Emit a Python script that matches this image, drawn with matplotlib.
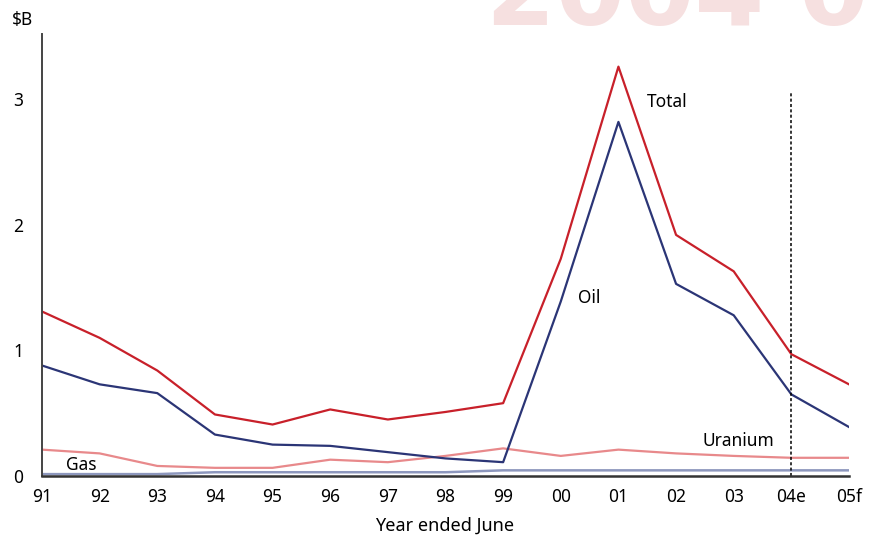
import matplotlib
matplotlib.use("Agg")
import matplotlib.pyplot as plt

years = ["91", "92", "93", "94", "95", "96", "97", "98", "99",
         "00", "01", "02", "03", "04e", "05f"]
total = [1.31, 1.10, 0.84, 0.49, 0.41, 0.53, 0.45, 0.51, 0.58,
         1.73, 3.26, 1.92, 1.63, 0.97, 0.73]
oil = [0.88, 0.73, 0.66, 0.33, 0.25, 0.24, 0.19, 0.14, 0.11,
       1.39, 2.82, 1.53, 1.28, 0.65, 0.39]
uranium = [0.21, 0.18, 0.08, 0.065, 0.065, 0.13, 0.11, 0.16, 0.22,
           0.16, 0.21, 0.18, 0.16, 0.145, 0.145]
gas = [0.015, 0.015, 0.015, 0.03, 0.03, 0.03, 0.03, 0.03, 0.045,
       0.045, 0.045, 0.045, 0.045, 0.045, 0.045]

plt.rcParams['font.family'] = ['Noto Sans', 'DejaVu Sans']
fs = 12.5

fig = plt.figure(figsize=(8.71, 5.40), dpi=100)
ax = fig.add_axes([42/871, 1 - 476/540, (849 - 42)/871, (476 - 34)/540])

x = list(range(len(years)))

# faint watermark behind the chart, cut off at the top edge
fig.text(486/871, 1 - 25/540, "2004 05", fontsize=72, fontweight='bold',
         family='DejaVu Sans', color='#f6e0e0', ha='left', va='baseline',
         zorder=0)

ax.plot(x, gas, color='#8d97bd', lw=1.8)
ax.plot(x, uranium, color='#e8898b', lw=1.6)
ax.plot(x, oil, color='#2b3576', lw=1.6)
ax.plot(x, total, color='#c8202a', lw=1.6)

ax.axvline(13, ymax=(476 - 92)/(476 - 34), color='black', lw=1.1,
           linestyle=(0, (2, 1.5)))

ax.set_xlim(0, 14)
ax.set_ylim(0, 3.52)
ax.set_xticks(x)
ax.set_xticklabels(years)
ax.set_yticks([0, 1, 2, 3])
ax.tick_params(length=0, labelsize=fs, pad=9)
ax.tick_params(axis='y', pad=17)
for lab in ax.get_yticklabels():
    lab.set_horizontalalignment('center')

ax.patch.set_alpha(0)
ax.spines['top'].set_visible(False)
ax.spines['right'].set_visible(False)
ax.spines['left'].set_color('#444444')
ax.spines['left'].set_linewidth(1.4)
ax.spines['bottom'].set_color('#333333')
ax.spines['bottom'].set_linewidth(1.8)

ax.text(9.3, 1.42, "Oil", fontsize=fs, ha='left', va='center')
ax.text(10.5, 2.98, "Total", fontsize=fs, ha='left', va='center')
ax.text(11.45, 0.28, "Uranium", fontsize=fs, ha='left', va='center')
ax.text(0.42, 0.09, "Gas", fontsize=fs, ha='left', va='center')

fig.text(12/871, 1 - 20/540, "$B", fontsize=fs, ha='left', va='center')
fig.text(445/871, 1 - 526/540, "Year ended June", fontsize=fs + 0.5,
         ha='center', va='center')

fig.savefig("out.png", dpi=100)
